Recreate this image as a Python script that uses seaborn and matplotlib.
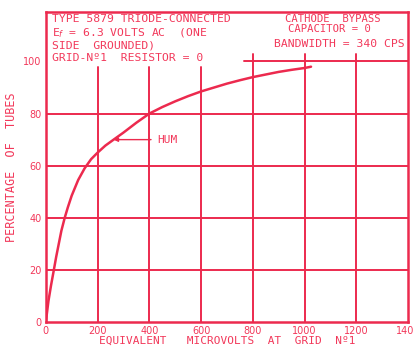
import matplotlib
matplotlib.use("Agg")
import matplotlib.pyplot as plt
import seaborn as sns
import pandas as pd

# data
microvolts = [0, 5, 10, 20, 31, 40, 50, 60, 73, 85, 100, 125, 150, 175, 200, 230, 262,
              300, 350, 400, 450, 500, 550, 600, 650, 700, 750, 800, 850, 900, 950, 1000, 1025]
percent = [0, 4, 8, 14, 20, 25, 30, 35, 40, 44, 48.5, 54.5, 59, 62.5, 65, 67.7, 70,
           72.7, 76.5, 80, 82.5, 84.7, 86.7, 88.5, 90, 91.5, 92.8, 94, 95, 96, 96.8, 97.5, 98]
x_ticks = [0, 200, 400, 600, 800, 1000, 1200, 1400]
y_ticks = [0, 20, 40, 60, 80, 100]

RED = "#ec2a4e"
TXT = "#f2385a"
MONO = ['DejaVu Sans Mono']

sns.set_theme(style="white")
plt.rcParams['font.family'] = ['DejaVu Sans']

fig = plt.figure(figsize=(4.13, 3.53), dpi=100)
ax = fig.add_axes([0.111, 0.088, 0.877, 0.878])

df = pd.DataFrame({"uv": microvolts, "pct": percent})

# grid lines
for yv in [20, 40, 60, 80]:
    ax.axhline(yv, color=RED, lw=1.4, zorder=1)
ax.plot([765, 1400], [100, 100], color=RED, lw=1.4, zorder=1)
for xv in [200, 400, 600]:
    ax.plot([xv, xv], [0, 98], color=RED, lw=1.4, zorder=1)
for xv in [800, 1000, 1200]:
    ax.plot([xv, xv], [0, 103], color=RED, lw=1.4, zorder=1)

sns.lineplot(data=df, x="uv", y="pct", ax=ax, color=RED, lw=1.8, zorder=3)

ax.set_xlim(0, 1400)
ax.set_ylim(0, 119)
ax.set_xticks(x_ticks)
ax.set_yticks(y_ticks)
ax.set_xticklabels([str(v) for v in x_ticks], color=TXT, fontsize=7)
ax.set_yticklabels([str(v) for v in y_ticks], color=TXT, fontsize=7)
ax.tick_params(length=0, pad=3)
for s in ax.spines.values():
    s.set_color(RED)
    s.set_linewidth(1.8)

ax.set_xlabel("EQUIVALENT   MICROVOLTS  AT  GRID  Nº1", color=TXT, fontsize=8,
              labelpad=0, family=MONO)
ax.set_ylabel("PERCENTAGE  OF  TUBES", color=TXT, fontsize=8.5, labelpad=4, family=MONO)

# header text
kw = dict(color=TXT, fontsize=8.2, va="top", family=MONO)
ax.text(22, 118.2, "TYPE 5879 TRIODE-CONNECTED", **kw)
ax.text(22, 113.4, "E$_f$ = 6.3 VOLTS AC  (ONE", **kw)
ax.text(22, 107.9, "SIDE  GROUNDED)", **kw)
ax.text(22, 103.2, "GRID-Nº1  RESISTOR = 0", **kw)
kr = dict(color=TXT, fontsize=7.6, va="top", family=MONO)
ax.text(1108, 118.3, "CATHODE  BYPASS", ha="center", **kr)
ax.text(1095, 114.3, "CAPACITOR = 0", ha="center", **kr)
ax.text(1385, 108.6, "BANDWIDTH = 340 CPS", ha="right", **kw)

ax.annotate("HUM", xy=(262, 70), xytext=(430, 70), color=TXT, fontsize=8,
            va="center", ha="left", family=MONO,
            arrowprops=dict(arrowstyle="-|>", color=RED, lw=1, mutation_scale=6,
                            shrinkA=2, shrinkB=0))

fig.savefig("out.png", dpi=100)
